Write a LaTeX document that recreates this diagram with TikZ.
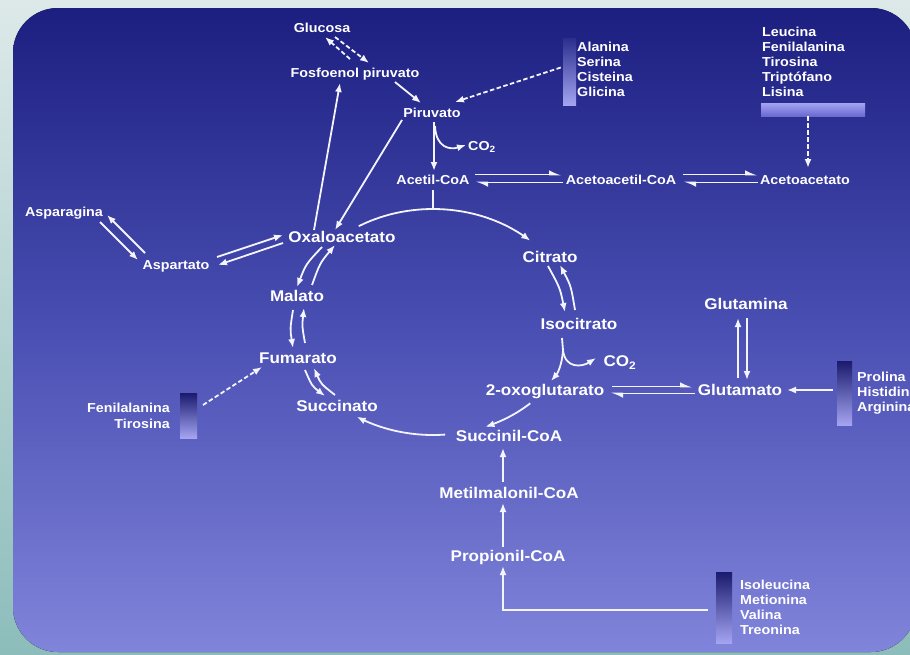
\documentclass[tikz,border=0pt]{standalone}
\usepackage{fontspec}
\setmainfont{Liberation Sans}[FakeStretch=1.1]
\usetikzlibrary{arrows.meta,calc}
\definecolor{bgtop}{HTML}{DDE9E9}
\definecolor{bgbot}{HTML}{8CBDBB}
\definecolor{ptop}{HTML}{1C1F80}
\definecolor{pmid}{HTML}{4A4FB3}
\definecolor{pbot}{HTML}{8084DA}
\definecolor{bardark}{HTML}{1A1A6E}
\definecolor{barlight}{HTML}{A4A4F2}
\definecolor{barmid}{HTML}{6A6AD0}
\definecolor{alatop}{HTML}{2A2F8C}
\definecolor{ink}{HTML}{F4F4FF}
\begin{document}
\begin{tikzpicture}[x=1pt,y=-1pt,
  lab/.style={text=white, inner sep=0pt, font=\bfseries\fontsize{13}{15}\selectfont, text height=9.5pt, text depth=0.2pt},
  big/.style={lab, font=\bfseries\fontsize{15.5}{18}\selectfont, text height=11.5pt, text depth=0.5pt},
  lst/.style={lab, anchor=west, font=\bfseries\fontsize{13}{15}\selectfont, text height=9pt, text depth=0pt},
  gbar/.style={inner sep=0pt, top color=bardark, bottom color=barlight},
  con/.style={draw=ink, line width=1.8pt},
  arr/.style={con, -{Latex[length=9pt,width=7pt]}},
  dsh/.style={arr, dash pattern=on 4.5pt off 2.5pt},
  har/.style={con, -{Latex[harpoon,length=10pt,width=9pt]}}]
\useasboundingbox (0,0) rectangle (910,654);
\fill[top color=bgtop, bottom color=bgbot] (0,0) rectangle (910,654);
\fill[rounded corners=45pt, top color=ptop, bottom color=pbot, middle color=pmid] (13,8) rectangle (916,652);

% bars
\node[gbar, top color=alatop, bottom color=barlight, minimum width=13pt, minimum height=67pt] (alab) at (569.5,71.5) {};
\node[gbar, top color=barlight, bottom color=barmid, minimum width=104pt, minimum height=13pt] (leub) at (813,109.5) {};
\node[gbar, minimum width=15pt, minimum height=64pt] (prob) at (844.5,393) {};
\node[gbar, minimum width=17pt, minimum height=45pt] (fenb) at (188.5,415.5) {};
\node[gbar, minimum width=16pt, minimum height=71pt] (ileb) at (724,607.5) {};

% lists
\foreach \t [count=\i] in {Alanina,Serina,Cisteina,Glicina}
  \node[lst] (ala\i) at (577,{32+15*\i}) {\t};
\foreach \t [count=\i] in {Leucina,Fenilalanina,Tirosina,Triptófano,Lisina}
  \node[lst] (leu\i) at (762,{17+15*\i}) {\t};
\foreach \t [count=\i] in {Prolina,Histidina,Arginina}
  \node[lst] (pro\i) at (857,{362+15*\i}) {\t};
\foreach \t [count=\i] in {Isoleucina,Metionina,Valina,Treonina}
  \node[lst] (ile\i) at (740,{570+15*\i}) {\t};
\node[lst, anchor=east] (fen1) at (170,408) {Fenilalanina};
\node[lst, anchor=east] (fen2) at (170,424) {Tirosina};

% labels
\node[lab] (glc) at (322,28) {Glucosa};
\node[lab] (pep) at (355,73) {Fosfoenol piruvato};
\node[lab] (pir) at (432,113) {Piruvato};
\node[lab] (co2a) at (482,146) {CO\textsubscript{2}};
\node[lab] (acc) at (433,180) {Acetil-CoA};
\node[lab] (aca) at (621,180) {Acetoacetil-CoA};
\node[lab] (acet) at (805,180) {Acetoacetato};
\node[lab] (asn) at (64,212) {Asparagina};
\node[lab] (asp) at (176,265) {Aspartato};
\node[big] (oxa) at (342,237) {Oxaloacetato};
\node[big] (mal) at (297,296) {Malato};
\node[big] (fum) at (298,358) {Fumarato};
\node[big] (suc) at (337,406) {Succinato};
\node[big] (cit) at (550,257) {Citrato};
\node[big] (iso) at (579,324) {Isocitrato};
\node[big] (co2b) at (620,361) {CO\textsubscript{2}};
\node[big] (oxg) at (545,390) {2-oxoglutarato};
\node[big] (gln) at (746,304) {Glutamina};
\node[big] (glu) at (740,390) {Glutamato};
\node[big] (scoa) at (509,436) {Succinil-CoA};
\node[big] (mmcoa) at (509,493) {Metilmalonil-CoA};
\node[big] (pcoa) at (508,556) {Propionil-CoA};

% upper connectors
\draw[dsh] ($(pep)+(-5,-14)$) -- ($(glc)+(3,9)$);
\draw[dsh] ($(glc)+(13,9)$) -- ($(pep)+(14,-10)$);
\draw[arr] ($(pep)+(40,9)$) -- ($(pir)+(-11,-10)$);
\draw[arr] ($(oxa)+(-28,-7)$) -- ($(pep)+(-15,10)$);
\draw[arr] ($(pir)+(-30,7)$) -- ($(oxa)+(-7,-7)$);
\draw[dsh] ($(alab.west)+(-2,-4)$) -- ($(pir)+(23,-11)$);
\draw[arr] ($(pir)+(2,9)$) -- ($(acc)+(1,-9)$);
\draw[arr] ($(pir)+(3,13)$) .. controls (436,148) and (450,150) .. ($(co2a)+(-16,-1)$);
\draw[har] ($(acc)+(42,-5.5)$) -- ($(aca)+(-59,-5.5)$);
\draw[har] ($(aca)+(-58,2.5)$) -- ($(acc)+(42,2.5)$);
\draw[har] ($(aca)+(62,-5.5)$) -- ($(acet)+(-47,-5.5)$);
\draw[har] ($(acet)+(-47,2.5)$) -- ($(aca)+(62,2.5)$);
\draw[dsh] ($(leub.south)+(-5,0)$) -- ($(acet)+(3,-12)$);

% cycle
\coordinate (cyc) at (433,322);
\coordinate (ctop) at (433,209);
\draw[con] ($(acc)+(0,10)$) -- (ctop);
\draw[arr, shift={(cyc)}] plot[domain=-122:-46, samples=40] ({140*cos(\x)},{113*sin(\x)});
\draw[arr] ($(cit)+(-2,9)$) .. controls (560,288) .. ($(iso)+(-14,-12)$);
\draw[arr] ($(iso)+(-4,-14)$) .. controls (571,286) .. ($(cit)+(10,8)$);
\draw[con] ($(iso)+(-17,14)$) -- ($(iso)+(-16,26)$) coordinate (isoj);
\draw[arr] (isoj) .. controls (562,366) and (557,374) .. ($(oxg)+(6,-9)$);
\draw[arr] (isoj) .. controls (565,369) and (582,367) .. ($(co2b)+(-24,-3)$);
\draw[arr, shift={(cyc)}] plot[domain=46:68, samples=20] ({140*cos(\x)},{113*sin(\x)});
\draw[arr, shift={(cyc)}] plot[domain=85:123, samples=25] ({140*cos(\x)},{113*sin(\x)});
\draw[arr] ($(fum)+(7,12)$) .. controls (312,386) .. ($(suc)+(-12,-10)$);
\draw[arr] ($(suc)+(-2,-11)$) .. controls (321,384) .. ($(fum)+(16,10)$);
\draw[arr] ($(mal)+(-4,14)$) .. controls (290,329) .. ($(fum)+(-5,-10)$);
\draw[arr] ($(fum)+(7,-15)$) .. controls (302,326) .. ($(mal)+(7,12)$);
\draw[arr] ($(oxa)+(-20,10)$) .. controls (306,264) .. ($(mal)+(0,-9)$);
\draw[arr] ($(mal)+(15,-11)$) .. controls (320,263) .. ($(oxa)+(-7,8)$);

% left side
\draw[arr] ($(asp)+(41,-8)$) -- ($(oxa)+(-59,-2)$);
\draw[arr] ($(oxa)+(-59,6)$) -- ($(asp)+(42,0)$);
\draw[arr] ($(asn)+(36,10)$) -- ($(asp)+(-38,-5)$);
\draw[arr] ($(asp)+(-31,-12)$) -- ($(asn)+(43,3)$);
\draw[dsh] ($(fenb)+(14.5,-10.5)$) -- ($(fum)+(-36,9)$);

% right side
\draw[har] ($(oxg)+(67,-3.5)$) -- ($(glu)+(-47,-3.5)$);
\draw[har] ($(glu)+(-45,3.5)$) -- ($(oxg)+(65,3.5)$);
\draw[arr] ($(glu)+(-2,-12)$) -- ($(gln)+(-8,14)$);
\draw[arr] ($(gln)+(1,14)$) -- ($(glu)+(7,-10)$);
\draw[arr] ($(prob.west)+(-4,-3)$) -- ($(glu)+(47,0)$);

% bottom
\draw[arr] ($(mmcoa)+(-6,-11)$) -- ($(scoa)+(-6,12)$);
\draw[arr] ($(pcoa)+(-5,-9)$) -- ($(mmcoa)+(-6,10)$);
\draw[arr] ($(ileb.west)+(-8,2.5)$) -| ($(pcoa)+(-5,10)$);
\end{tikzpicture}
\end{document}
